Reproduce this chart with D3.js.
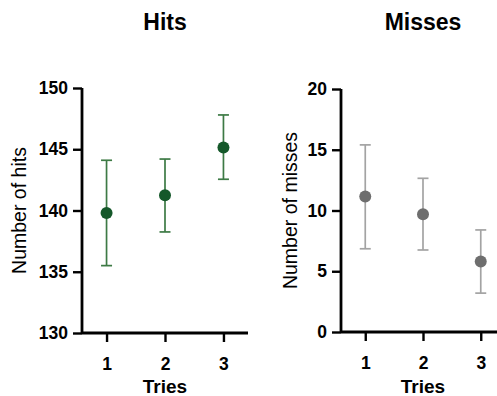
<!DOCTYPE html>
<html><head><meta charset="utf-8">
<script src="https://cdn.jsdelivr.net/npm/d3@7"></script>
<style>body{margin:0;background:#fff}svg{display:block}</style>
</head><body>
<svg id="c" width="497" height="396"></svg>
<script>
const tries = ["1","2","3"];
const hitsMean = [139.8, 141.25, 145.15];
const hitsHigh = [144.1, 144.2, 147.8];
const hitsLow = [135.5, 138.25, 142.55];
const missMean = [11.15, 9.7, 5.8];
const missHigh = [15.4, 12.65, 8.4];
const missLow = [6.85, 6.75, 3.2];
const hitsTicks = [130, 135, 140, 145, 150];
const missTicks = [0, 5, 10, 15, 20];

const svg = d3.select("#c");
const font = "Liberation Sans, Arial, sans-serif";

function panel(o){
  const g = svg.append("g");
  const x = d3.scalePoint().domain(tries).range([o.x0, o.x1]).padding(0.42);
  const y = d3.scaleLinear().domain(o.domain).range([o.yb, o.yt]);
  const ya = g.append("g").attr("transform", `translate(${o.x0},0)`)
    .call(d3.axisLeft(y).tickValues(o.ticks).tickSize(9).tickPadding(5));
  const xa = g.append("g").attr("transform", `translate(0,${o.yb})`)
    .call(d3.axisBottom(x).tickSize(9).tickPadding(16));
  [ya, xa].forEach(a=>{
    a.select(".domain").attr("stroke","#000").attr("stroke-width",2.8);
    a.selectAll(".tick line").attr("stroke","#000").attr("stroke-width",2.4);
    a.selectAll("text").attr("font-family",font).attr("font-weight","bold").attr("font-size",17.5).attr("fill","#000");
  });
  ya.select(".domain").attr("d", `M0,${o.yt}V${o.yb}`);
  xa.select(".domain").attr("d", `M${o.x0},0H${o.x1}`);
  const data = tries.map((t,i)=>({t, m:o.mean[i], hi:o.high[i], lo:o.low[i]}));
  const eb = g.append("g").attr("stroke", o.barColor).attr("stroke-width",1.7);
  data.forEach(d=>{
    const cx = x(d.t);
    eb.append("line").attr("x1",cx).attr("x2",cx).attr("y1",y(d.hi)).attr("y2",y(d.lo));
    eb.append("line").attr("x1",cx-5.5).attr("x2",cx+5.5).attr("y1",y(d.hi)).attr("y2",y(d.hi));
    eb.append("line").attr("x1",cx-5.5).attr("x2",cx+5.5).attr("y1",y(d.lo)).attr("y2",y(d.lo));
  });
  g.selectAll("circle.dot").data(data).join("circle").attr("class","dot")
    .attr("cx",d=>x(d.t)).attr("cy",d=>y(d.m)).attr("r",6).attr("fill",o.dotColor);
  g.append("text").attr("x", x("2")).attr("y", 30).attr("text-anchor","middle")
    .attr("font-family",font).attr("font-weight","bold").attr("font-size",23).text(o.title);
  g.append("text").attr("x", x("2")).attr("y", 393).attr("text-anchor","middle")
    .attr("font-family",font).attr("font-weight","bold").attr("font-size",19).text("Tries");
  g.append("text").attr("transform", `translate(${o.ylx},${(o.yt+o.yb)/2}) rotate(-90)`)
    .attr("text-anchor","middle").attr("font-family",font).attr("font-size",19.5).text(o.ylabel);
}

panel({x0:82, x1:248, yt:88, yb:333, domain:[130,150], ticks:hitsTicks,
  mean:hitsMean, high:hitsHigh, low:hitsLow, dotColor:"#15582a", barColor:"#3d7a45",
  title:"Hits", ylabel:"Number of hits", ylx:26});
panel({x0:341, x1:505, yt:89, yb:332, domain:[0,20], ticks:missTicks,
  mean:missMean, high:missHigh, low:missLow, dotColor:"#6e6e6e", barColor:"#a3a3a3",
  title:"Misses", ylabel:"Number of misses", ylx:297});
</script>
</body></html>
